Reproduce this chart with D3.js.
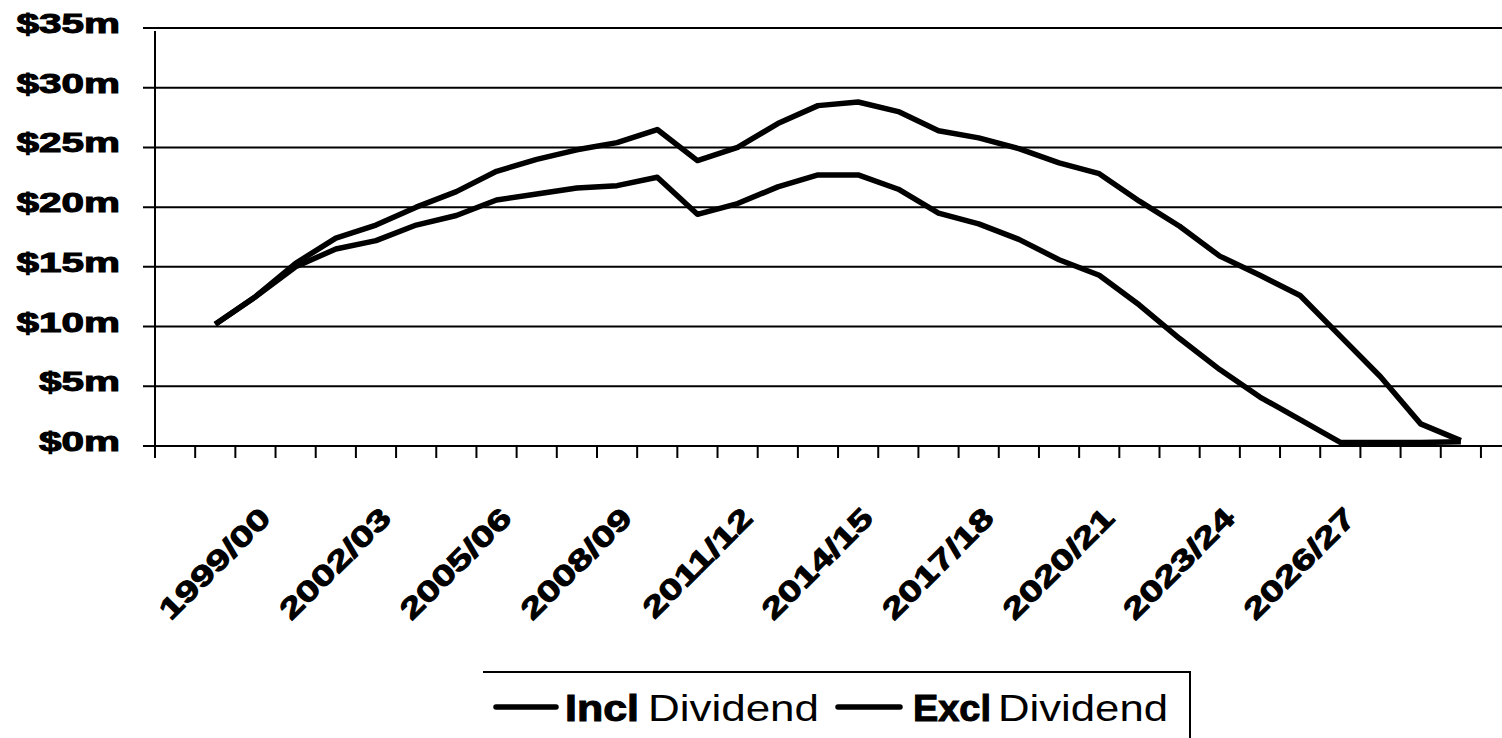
<!DOCTYPE html>
<html>
<head>
<meta charset="utf-8">
<script src="https://cdn.jsdelivr.net/npm/d3@7"></script>
<style>
  body { margin: 0; background: #fff; }
  text { font-family: "Liberation Sans", Arial, sans-serif; fill: #000; }
  .heavy { font-weight: bold; stroke: #000; stroke-width: 1px; }
</style>
</head>
<body>
<div class="chart"></div>
<script>
// chart data ($ millions)
var categories = ["1998/99", "1999/00", "2000/01", "2001/02", "2002/03", "2003/04", "2004/05",
  "2005/06", "2006/07", "2007/08", "2008/09", "2009/10", "2010/11", "2011/12", "2012/13",
  "2013/14", "2014/15", "2015/16", "2016/17", "2017/18", "2018/19", "2019/20", "2020/21",
  "2021/22", "2022/23", "2023/24", "2024/25", "2025/26", "2026/27", "2027/28", "2028/29",
  "2029/30", "2030/31", "2031/32"];

// first and last category have no values
var inclDividend = [null, 10.2, 12.5, 15.0, 16.5, 17.2, 18.5, 19.3, 20.6, 21.1, 21.6, 21.8,
  22.5, 19.4, 20.3, 21.7, 22.7, 22.7, 21.5, 19.5, 18.6, 17.3, 15.6, 14.3, 11.8, 9.0, 6.4,
  4.1, 2.2, 0.3, 0.3, 0.3, 0.35, null];

var exclDividend = [null, 10.2, 12.5, 15.3, 17.4, 18.5, 20.0, 21.3, 23.0, 24.0, 24.8, 25.4,
  26.5, 23.9, 25.0, 27.0, 28.5, 28.8, 28.0, 26.4, 25.8, 24.9, 23.7, 22.8, 20.5, 18.4, 15.9,
  14.3, 12.6, 9.2, 5.8, 1.85, 0.45, null];

var yTicks = [0, 5, 10, 15, 20, 25, 30, 35];
var xTickLabels = ["1999/00", "2002/03", "2005/06", "2008/09", "2011/12", "2014/15",
  "2017/18", "2020/21", "2023/24", "2026/27"];

var svgWidth = 1502;
var svgHeight = 738;

var svg = d3.select(".chart")
  .append("svg")
  .attr("width", svgWidth)
  .attr("height", svgHeight)
  .style("display", "block");

var left = 155;
var step = 40.18;

var x = d3.scaleBand()
  .domain(categories)
  .range([left, left + step * categories.length])
  .padding(0);

var y = d3.scaleLinear()
  .domain([0, 35])
  .range([446, 28]);

// gridlines (they also stick out left of the axis as ticks)
svg.append("g").selectAll("line")
  .data(yTicks)
  .enter()
  .append("line")
  .attr("x1", 143)
  .attr("x2", svgWidth)
  .attr("y1", function(d) { return y(d); })
  .attr("y2", function(d) { return y(d); })
  .attr("stroke", "#000")
  .attr("stroke-width", 2);

// y axis line
svg.append("line")
  .attr("x1", left).attr("x2", left)
  .attr("y1", y(35) + 3).attr("y2", y(0) + 12)
  .attr("stroke", "#000")
  .attr("stroke-width", 2);

// x ticks on category boundaries
var boundaries = categories.map(function(c) { return x(c); });
boundaries.push(x(categories[categories.length - 1]) + x.bandwidth());
svg.append("g").selectAll("line")
  .data(boundaries)
  .enter()
  .append("line")
  .attr("x1", function(d) { return d; })
  .attr("x2", function(d) { return d; })
  .attr("y1", y(0))
  .attr("y2", y(0) + 12)
  .attr("stroke", "#000")
  .attr("stroke-width", 2);

// y labels
svg.append("g").selectAll("text")
  .data(yTicks)
  .enter()
  .append("text")
  .attr("class", "heavy")
  .attr("transform", function(d) { return "translate(120," + (y(d) + 5) + ") scale(1.5,1)"; })
  .attr("text-anchor", "end")
  .style("font-size", "27px")
  .text(function(d) { return "$" + d + "m"; });

// rotated x labels
svg.append("g").selectAll("text")
  .data(xTickLabels)
  .enter()
  .append("text")
  .attr("class", "heavy")
  .attr("transform", function(d) {
    var cx = x(d) + x.bandwidth() / 2;
    return "translate(" + (cx + 57) + ",520) rotate(-45) scale(1.37,1)";
  })
  .attr("text-anchor", "end")
  .style("font-size", "29px")
  .text(function(d) { return d; });

// lines
var line = d3.line()
  .defined(function(d) { return d.v != null; })
  .x(function(d) { return x(d.c) + x.bandwidth() / 2; })
  .y(function(d) { return y(d.v); });

[inclDividend, exclDividend].forEach(function(series) {
  var pts = categories.map(function(c, i) { return { c: c, v: series[i] }; });
  svg.append("path")
    .datum(pts)
    .attr("d", line)
    .attr("fill", "none")
    .attr("stroke", "#000")
    .attr("stroke-width", 5.5)
    .attr("stroke-linejoin", "round");
});

// legend
var legend = svg.append("g");
legend.append("line")
  .attr("x1", 483).attr("x2", 1191)
  .attr("y1", 672).attr("y2", 672)
  .attr("stroke", "#000").attr("stroke-width", 2);
legend.append("line")
  .attr("x1", 1190).attr("x2", 1190)
  .attr("y1", 672).attr("y2", svgHeight)
  .attr("stroke", "#000").attr("stroke-width", 2);

var legendItems = [
  { x1: 496, x2: 556, bold: "Incl", bx: 565, bw: 74, rx: 648, rw: 171 },
  { x1: 838, x2: 900, bold: "Excl", bx: 913, bw: 78, rx: 998, rw: 170 }
];

legendItems.forEach(function(d) {
  legend.append("line")
    .attr("x1", d.x1).attr("x2", d.x2)
    .attr("y1", 707).attr("y2", 707)
    .attr("stroke", "#000")
    .attr("stroke-width", 5.5)
    .attr("stroke-linecap", "round");
  legend.append("text")
    .attr("class", "heavy")
    .attr("x", d.bx).attr("y", 721)
    .attr("textLength", d.bw)
    .attr("lengthAdjust", "spacingAndGlyphs")
    .style("font-size", "36px")
    .text(d.bold);
  legend.append("text")
    .attr("x", d.rx).attr("y", 721)
    .attr("textLength", d.rw)
    .attr("lengthAdjust", "spacingAndGlyphs")
    .style("font-size", "36px")
    .text("Dividend");
});
</script>
</body>
</html>
